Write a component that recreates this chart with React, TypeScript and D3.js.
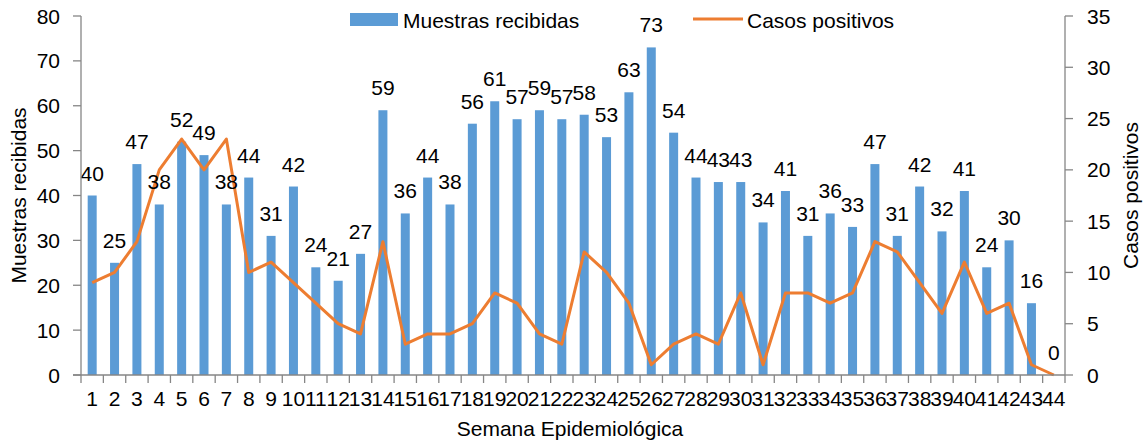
import React from "react";
import * as d3 from "d3";

const weeks = Array.from({ length: 44 }, (_, i) => String(i + 1));
const muestras = [40, 25, 47, 38, 52, 49, 38, 44, 31, 42, 24, 21, 27, 59, 36, 44, 38, 56, 61, 57, 59, 57, 58, 53, 63, 73, 54, 44, 43, 43, 34, 41, 31, 36, 33, 47, 31, 42, 32, 41, 24, 30, 16, 0];
const positivos = [9, 10, 13, 20, 23, 20, 23, 10, 11, 9, 7, 5, 4, 13, 3, 4, 4, 5, 8, 7, 4, 3, 12, 10, 7, 1, 3, 4, 3, 8, 1, 8, 8, 7, 8, 13, 12, 9, 6, 11, 6, 7, 1, 0];
const leftTicks = [0, 10, 20, 30, 40, 50, 60, 70, 80];
const rightTicks = [0, 5, 10, 15, 20, 25, 30, 35];

const W = 1147, H = 443;
const left = 81, right = 1065, top = 16, bottom = 375;
const FONT = "'Liberation Sans', Arial, sans-serif";
const BLUE = "#5B9BD5";
const ORANGE = "#ED7D31";
const AXIS = "#868686";

export default function App() {
  const x = d3.scaleBand<string>().domain(weeks).range([left, right]).paddingInner(0).paddingOuter(0);
  const yL = d3.scaleLinear().domain([0, 80]).range([bottom, top]);
  const yR = d3.scaleLinear().domain([0, 35]).range([bottom, top]);
  const bw = 9;
  const cx = (w: string) => (x(w) as number) + x.bandwidth() / 2;
  const line = d3.line<number>().x((_, i) => cx(weeks[i])).y((d) => yR(d));
  const fs = 21;

  return (
    <svg width={W} height={H} style={{ position: "absolute", left: 0, top: 0, background: "#fff" }} fontFamily={FONT}>
      {muestras.map((v, i) => (
        <rect key={i} x={cx(weeks[i]) - bw / 2} y={yL(v)} width={bw} height={bottom - yL(v)} fill={BLUE} />
      ))}
      <path d={line(positivos) || ""} fill="none" stroke={ORANGE} strokeWidth={3} strokeLinejoin="round" />
      {muestras.map((v, i) => (
        <text key={i} x={cx(weeks[i])} y={yL(v) - 22.5} textAnchor="middle" dominantBaseline="central" fontSize={fs} fill="#000">{v}</text>
      ))}
      <line x1={left} x2={left} y1={top} y2={bottom} stroke={AXIS} strokeWidth={1.3} />
      {leftTicks.map((t) => (
        <g key={t}>
          <line x1={left - 8} x2={left} y1={yL(t)} y2={yL(t)} stroke={AXIS} strokeWidth={1.3} />
          <text x={left - 21} y={yL(t)} textAnchor="end" dominantBaseline="central" fontSize={fs}>{t}</text>
        </g>
      ))}
      <line x1={right} x2={right} y1={top} y2={bottom} stroke={AXIS} strokeWidth={1.3} />
      {rightTicks.map((t) => (
        <g key={t}>
          <line x1={right} x2={right + 8} y1={yR(t)} y2={yR(t)} stroke={AXIS} strokeWidth={1.3} />
          <text x={right + 22} y={yR(t)} textAnchor="start" dominantBaseline="central" fontSize={fs}>{t}</text>
        </g>
      ))}
      <line x1={left - 8} x2={right} y1={bottom} y2={bottom} stroke={AXIS} strokeWidth={1.3} />
      {weeks.map((w) => (
        <line key={w} x1={x(w) as number} x2={x(w) as number} y1={bottom} y2={bottom + 8} stroke={AXIS} strokeWidth={1.3} />
      ))}
      <line x1={right} x2={right} y1={bottom} y2={bottom + 8} stroke={AXIS} strokeWidth={1.3} />
      {weeks.map((w) => (
        <text key={w} x={cx(w)} y={398} textAnchor="middle" dominantBaseline="central" fontSize={fs}>{w}</text>
      ))}
      <text x={570} y={428} textAnchor="middle" dominantBaseline="central" fontSize={fs}>Semana Epidemiológica</text>
      <text transform={`translate(18,${(top + bottom) / 2}) rotate(-90)`} textAnchor="middle" dominantBaseline="central" fontSize={fs}>Muestras recibidas</text>
      <text transform={`translate(1130,${(top + bottom) / 2}) rotate(-90)`} textAnchor="middle" dominantBaseline="central" fontSize={fs}>Casos positivos</text>
      <rect x={350} y={13} width={48} height={13} fill={BLUE} />
      <text x={403} y={20} dominantBaseline="central" fontSize={fs}>Muestras recibidas</text>
      <line x1={693} x2={743} y1={19} y2={19} stroke={ORANGE} strokeWidth={3} />
      <text x={747} y={20} dominantBaseline="central" fontSize={fs}>Casos positivos</text>
    </svg>
  );
}
